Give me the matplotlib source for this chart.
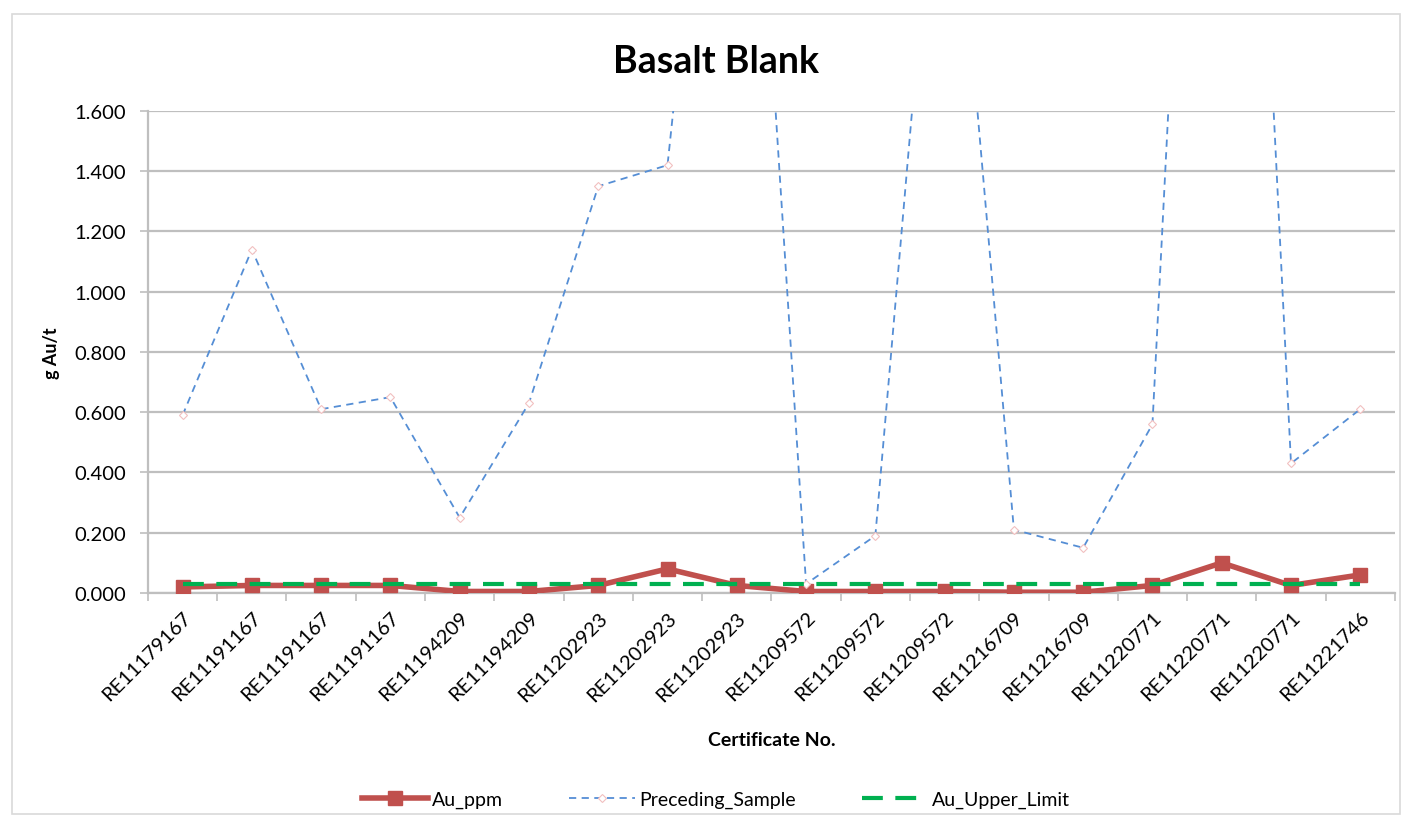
import numpy as np
import matplotlib
matplotlib.use("Agg")
import matplotlib.pyplot as plt
from matplotlib.patches import Rectangle
from matplotlib.ticker import FuncFormatter, FixedLocator

plt.rcParams['font.family'] = ['Lato', 'DejaVu Sans']

certificates = ['RE11179167', 'RE11191167', 'RE11191167', 'RE11191167',
                'RE11194209', 'RE11194209', 'RE11202923', 'RE11202923',
                'RE11202923', 'RE11209572', 'RE11209572', 'RE11209572',
                'RE11216709', 'RE11216709', 'RE11220771', 'RE11220771',
                'RE11220771', 'RE11221746']
au_ppm = [0.020, 0.025, 0.025, 0.025, 0.005, 0.005, 0.025, 0.080, 0.025,
          0.005, 0.005, 0.005, 0.0025, 0.0025, 0.025, 0.100, 0.025, 0.060]
preceding_sample = [0.59, 1.14, 0.61, 0.65, 0.25, 0.63, 1.35, 1.42, 3.6,
                    0.03, 0.19, 2.85, 0.21, 0.15, 0.56, 5.1, 0.43, 0.61]
au_upper_limit = [0.03] * len(certificates)

x = np.arange(len(certificates))

fig = plt.figure(figsize=(14.09, 8.29), dpi=100)
ax = fig.add_axes([0.105, 0.2835, 0.885, 0.5815])

# chart frame
fig.patches.append(Rectangle((12 / 1409, 1 - 815 / 829), 1388 / 1409, 800 / 829,
                             transform=fig.transFigure, fill=False,
                             edgecolor='#d9d9d9', linewidth=1.2))

ax.plot(x, au_ppm, color='#c0504d', linewidth=4, marker='s', markersize=10.5,
        label='Au_ppm', zorder=3)
ax.plot(x, preceding_sample, color='#558ed5', linewidth=1.3, linestyle=(0, (4, 3)),
        marker='D', markersize=4, markerfacecolor='white',
        markeredgecolor='#f2c0c0', markeredgewidth=0.8,
        label='Preceding_Sample', zorder=4)
ax.plot(x, au_upper_limit, color='#00b050', linewidth=3, linestyle=(0, (5, 3)),
        label='Au_Upper_Limit', zorder=5)

ax.set_xlim(-0.5, len(certificates) - 0.5)
ax.set_ylim(0, 1.6)
ax.set_yticks(np.arange(0, 1.61, 0.2))
ax.yaxis.set_major_formatter(FuncFormatter(lambda v, p: '{:.3f}'.format(v)))
ax.grid(axis='y', color='#bfbfbf', linewidth=1.6)
ax.set_axisbelow(True)

ax.set_xticks(x)
ax.set_xticklabels(certificates, rotation=45, ha='right', rotation_mode='anchor',
                   fontsize=14.5)
ax.tick_params(axis='x', length=0, pad=11)
ax.xaxis.set_minor_locator(FixedLocator(np.arange(-0.5, len(certificates), 1)))
ax.tick_params(axis='x', which='minor', length=6, color='#bfbfbf', width=1.2)
ax.tick_params(axis='y', labelsize=14.5, length=6, color='#bfbfbf', width=1.2,
               pad=10)

for side in ['top', 'right']:
    ax.spines[side].set_visible(False)
for side in ['left', 'bottom']:
    ax.spines[side].set_color('#bfbfbf')
    ax.spines[side].set_linewidth(1.6)

fig.text(0.508, 1 - 62 / 829, 'Basalt Blank', fontsize=27, fontweight='bold',
         ha='center', va='center')
ax.set_ylabel('g Au/t', fontsize=13, fontweight='bold', labelpad=10)
ax.set_xlabel('Certificate No.', fontsize=14, fontweight='bold', labelpad=20)

fig.legend(loc='center', bbox_to_anchor=(0.508, 1 - 800 / 829), ncol=3,
           frameon=False, fontsize=14, handlelength=3.4, handletextpad=0.2,
           columnspacing=3.4)

fig.savefig('out.png', dpi=100)
